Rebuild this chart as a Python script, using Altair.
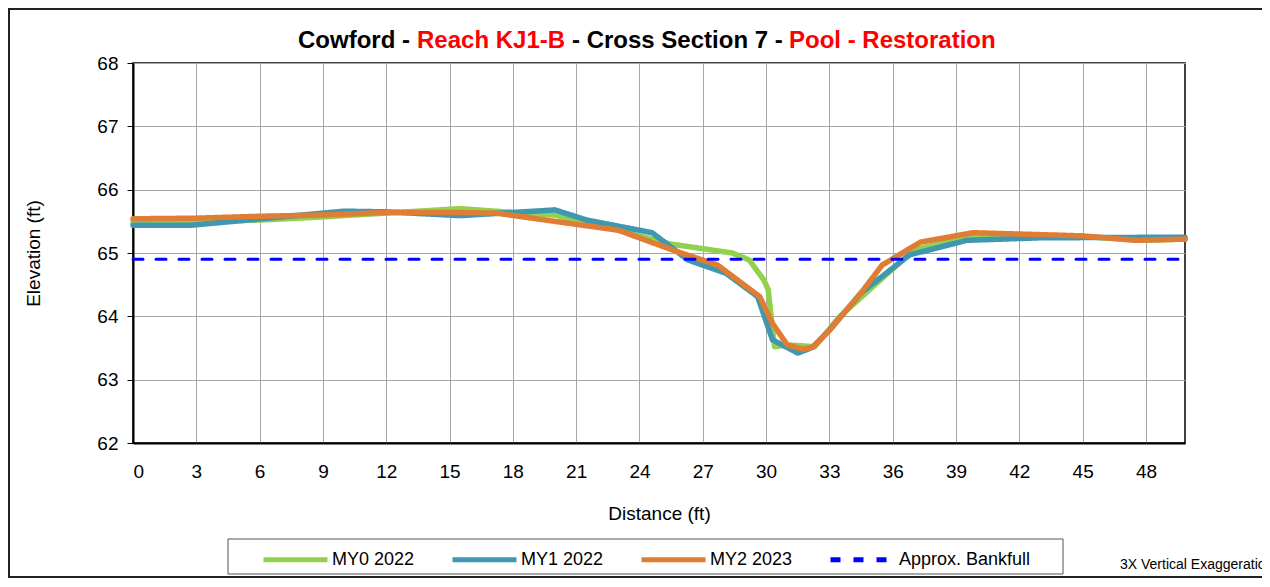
import altair as alt
import pandas as pd

# ---------------- data ----------------
SERIES = ["MY0 2022", "MY1 2022", "MY2 2023", "Approx. Bankfull"]
COLORS = ["#92D050", "#3F97B0", "#E07D35", "#0000FF"]
DASHES = [[1, 0], [1, 0], [1, 0], [10, 13]]

DIST_MY0 = [0, 3, 6, 9, 12, 15.5, 18, 20, 23, 25.5, 28.4, 29.2, 29.9, 30.1, 30.4,
            31.0, 32.3, 33.5, 35, 37, 40, 43, 45.5, 48, 49.85]
ELEV_MY0 = [65.49, 65.50, 65.52, 65.57, 65.63, 65.70, 65.64, 65.60, 65.36, 65.14,
            65.00, 64.89, 64.57, 64.42, 63.52, 63.55, 63.52, 64.00, 64.45, 65.05,
            65.28, 65.27, 65.25, 65.20, 65.22]

DIST_MY1 = [0, 2.8, 10, 12, 15.5, 20, 21.5, 24.6, 26.3, 28.1, 29.6, 30.3, 31.5,
            32.2, 33.0, 34.5, 36.8, 39.5, 43, 49.85]
ELEV_MY1 = [65.44, 65.44, 65.66, 65.65, 65.59, 65.68, 65.52, 65.32, 64.89, 64.68,
            64.31, 63.63, 63.42, 63.51, 63.78, 64.37, 64.97, 65.20, 65.24, 65.25]

DIST_MY2 = [0, 3, 6, 9, 12, 15, 17.2, 20.2, 23, 25.8, 27.7, 29.7, 30.3, 31.0, 31.75,
            32.2, 33.0, 34.5, 35.5, 37.3, 39.8, 43, 45, 47.5, 49.85]
ELEV_MY2 = [65.54, 65.55, 65.58, 65.60, 65.64, 65.64, 65.63, 65.49, 65.36, 65.02,
            64.81, 64.31, 63.89, 63.55, 63.48, 63.51, 63.78, 64.37, 64.81, 65.17,
            65.32, 65.29, 65.27, 65.20, 65.22]

DIST_BANK = [0, 49.85]
ELEV_BANK = [64.9, 64.9]

X_TICKS = list(range(0, 49, 3))
Y_TICKS = [62, 63, 64, 65, 66, 67, 68]

TITLE_PARTS = ["Cowford -", "Reach KJ1-B", "- Cross Section 7 -", "Pool - Restoration"]
TITLE_COLORS = ["black", "#FF0000", "black", "#FF0000"]
FOOTNOTE = "3X Vertical Exaggeration"

FONT = "Liberation Sans"

rows = []
for name, xs, ys in [(SERIES[0], DIST_MY0, ELEV_MY0),
                     (SERIES[1], DIST_MY1, ELEV_MY1),
                     (SERIES[2], DIST_MY2, ELEV_MY2)]:
    for a, b in zip(xs, ys):
        rows.append({"series": name, "dist": a, "elev": b})
df_lines = pd.DataFrame(rows)
df_bank = pd.DataFrame({"series": SERIES[3], "dist": DIST_BANK, "elev": ELEV_BANK})
one = pd.DataFrame({"k": [0]})

X = alt.X("dist:Q", scale=alt.Scale(domain=[0, 49.85], nice=False, zero=False),
          axis=alt.Axis(values=X_TICKS, title="Distance (ft)", ticks=False,
                        labelPadding=19, titlePadding=23, grid=True))
Y = alt.Y("elev:Q", scale=alt.Scale(domain=[62, 68], nice=False, zero=False),
          axis=alt.Axis(values=Y_TICKS, title="Elevation (ft)", tickSize=6,
                        labelPadding=9, titlePadding=53, grid=True))
legend = alt.Legend(title=None)
C = alt.Color("series:N", scale=alt.Scale(domain=SERIES, range=COLORS), legend=legend)
D = alt.StrokeDash("series:N", scale=alt.Scale(domain=SERIES, range=DASHES), legend=legend)

lines = alt.Chart(df_lines).mark_line(strokeWidth=5.5, strokeCap="round",
                                      strokeJoin="round").encode(x=X, y=Y, color=C, strokeDash=D)
bank = alt.Chart(df_bank).mark_line(strokeWidth=3, strokeCap="round").encode(
    x=X, y=Y, color=C, strokeDash=D)

frame = alt.Chart(one).mark_rect(fillOpacity=0, stroke="#222222", strokeWidth=2).encode(
    x=alt.value(-124), x2=alt.value(1160), y=alt.value(-54), y2=alt.value(514))
legbox = alt.Chart(one).mark_rect(fillOpacity=0, stroke="#555555", strokeWidth=1).encode(
    x=alt.value(95), x2=alt.value(930), y=alt.value(476), y2=alt.value(511))

title_x = [165, 284, 439, 656]
titles = [
    alt.Chart(one).mark_text(text=t, align="left", baseline="alphabetic", fontSize=24,
                             fontWeight="bold", font=FONT, color=c).encode(
        x=alt.value(px), y=alt.value(-15))
    for t, c, px in zip(TITLE_PARTS, TITLE_COLORS, title_x)
]
foot = alt.Chart(one).mark_text(text=FOOTNOTE, align="left", baseline="alphabetic",
                                fontSize=14, font=FONT, color="black").encode(
    x=alt.value(987), y=alt.value(506))

chart = alt.layer(frame, legbox, lines, bank, *titles, foot).properties(
    width=1052, height=380,
    autosize=alt.AutoSizeParams(type="none"),
    padding={"left": 125, "top": 55, "right": 77, "bottom": 135},
).configure_view(stroke="black", strokeWidth=1.5).configure_axis(
    gridColor="#A6A6A6", gridWidth=1, domainColor="black", domainWidth=2,
    tickColor="black", labelFont=FONT, labelFontSize=19, labelColor="black",
    titleFont=FONT, titleFontSize=19, titleFontWeight="normal", titleColor="black",
).configure_legend(
    orient="none", legendX=128, legendY=462, direction="horizontal", columns=4,
    symbolType="stroke", symbolSize=4096, symbolStrokeWidth=5, labelFont=FONT,
    labelFontSize=18, labelColor="black", labelOffset=2, columnPadding=27, padding=0,
)

chart.save("out.html", embed_options={"renderer": "svg", "actions": False})
